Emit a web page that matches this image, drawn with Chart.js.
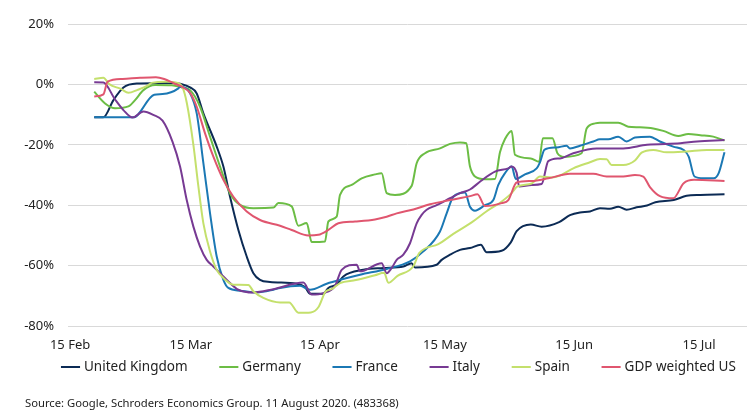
<!DOCTYPE html>
<html><head><meta charset="utf-8">
<script src="https://cdn.jsdelivr.net/npm/chart.js@4/dist/chart.umd.min.js"></script>
<style>
html,body{margin:0;padding:0;background:#fff;}
#wrap{position:relative;width:752px;height:415px;overflow:hidden;}
#source{position:absolute;left:25px;top:395px;font:11.25px 'Noto Sans',sans-serif;color:#222;white-space:nowrap;}
</style></head><body>
<div id="wrap"><canvas id="c" width="752" height="415"></canvas>
<div id="source">Source: Google, Schroders Economics Group. 11 August 2020. (483368)</div></div>
<script>
// x = days after 15 Feb 2020, y = % change
const seriesNames = ['United Kingdom','Germany','France','Italy','Spain','GDP weighted US'];
const seriesColors = ['#0c2b55','#6cbd45','#1b78b4','#773a93','#c4e06c','#e0566f'];
const tickDays = [0,29,60,90,121,151];
const tickLabels = ['15 Feb','15 Mar','15 Apr','15 May','15 Jun','15 Jul'];
const yTicks = [20,0,-20,-40,-60,-80];

const ukData = [[5.8,-10.9],[8,-10.9],[10.4,-5.2],[12.8,-1.0],[16,0.3],[20.8,0.4],[24.8,0.5],[26.4,0.2],[28.8,-1.0],[30.4,-3.0],[32,-9.6],[35.2,-20.6],[36.8,-27.2],[38.4,-37.2],[40.4,-48.2],[42.4,-57],[44,-62.5],[45.6,-64.7],[48,-65.4],[54.4,-66],[56.4,-67.1],[57.6,-69.3],[60.8,-69.3],[62,-67.4],[64,-66.3],[65.6,-63.6],[70.4,-61.4],[75.2,-60.8],[80,-60.3],[82,-59.2],[82.8,-60.6],[88,-59.7],[89.2,-58.1],[91.2,-56.4],[93.6,-54.8],[96,-54.2],[98.6,-53.1],[100,-55.6],[103.6,-55.1],[105.8,-52.3],[107.2,-48.6],[110.6,-46.4],[113.2,-47.1],[117.4,-45.6],[120,-43.3],[122.4,-42.4],[124.8,-42.1],[127.2,-41],[129.6,-41.2],[131.6,-40.5],[133.6,-41.5],[136,-40.7],[138.5,-40.1],[140.5,-39],[144.9,-38.3],[148,-36.9],[151.3,-36.6],[157.1,-36.4]];
const deData = [[5.8,-2.4],[8.4,-6.3],[10.8,-7.9],[14,-7.3],[15.6,-5.2],[17.6,-1.9],[20.4,-0.2],[24.4,-0.3],[26.8,-1.0],[28.8,-1.9],[31.2,-7.4],[33.6,-17.3],[36,-27.2],[38.4,-36.1],[40.8,-39.9],[44,-41],[48.8,-40.8],[50,-39.3],[53.2,-40.4],[54.8,-46.8],[56.8,-45.9],[58,-52.2],[61.2,-52],[62,-45.4],[64,-43.8],[64.8,-36.6],[67.6,-33.3],[70,-31.1],[73.2,-29.8],[74.8,-29.4],[76,-36],[78,-36.6],[82,-33.6],[83.2,-26.1],[85.2,-22.8],[88.8,-21.2],[91.2,-19.7],[93.6,-19.2],[95.1,-19.5],[96,-27.2],[97.2,-30.5],[99.6,-31.4],[102,-31.3],[103.2,-22.5],[104.4,-18.1],[106,-15.4],[106.8,-23.3],[110.6,-24.5],[112.6,-25.6],[113.5,-17.8],[115.8,-17.8],[117,-22.8],[118.6,-24],[122.8,-22.8],[124,-14.6],[126,-12.9],[127.2,-12.7],[131.6,-12.7],[134,-14],[136.8,-14.2],[140,-14.6],[142.4,-15.4],[146,-17.1],[148.4,-16.4],[151.3,-16.8],[154.4,-17.3],[157.1,-18.6]];
const frData = [[5.8,-10.9],[15.2,-10.9],[20.2,-3.4],[22.2,-3.2],[26,-1.3],[26.4,-0.7],[28.8,-2.9],[30.4,-9.6],[32,-26.1],[33.6,-42.7],[35.2,-57],[36.8,-64.7],[38,-67.4],[40.8,-68.3],[44.8,-68.9],[48.8,-68],[50.4,-67.4],[55.2,-66.7],[57.6,-68],[61.6,-66],[64.8,-64.7],[69.6,-63],[76,-61.1],[81.6,-58.6],[84.8,-55.3],[88.8,-48.7],[90.4,-42.7],[92,-37.2],[94.8,-35.8],[96,-40.5],[97.2,-41.8],[99.6,-40],[101.6,-38.3],[102.8,-33.3],[104.4,-29.4],[106,-27.2],[107,-31.3],[109.2,-29.8],[112,-27.8],[112.8,-25.8],[113.9,-21.6],[116.8,-20.9],[119.2,-20.3],[120,-21.2],[122.4,-20.3],[125.6,-18.9],[127.2,-18.2],[129.2,-18.2],[131.6,-17.3],[133.6,-18.9],[135.6,-17.6],[139.2,-17.3],[141.6,-18.9],[144.8,-20.6],[147.3,-21.7],[148.5,-23.9],[149.9,-30.5],[152.1,-31.1],[154.5,-31.1],[155.7,-29.4],[157.1,-22.5]];
const itData = [[5.8,0.7],[8,0.6],[10.8,-5.0],[12.8,-8.5],[15,-11],[17.6,-9],[20,-10.1],[22.2,-12],[24.6,-19],[26.4,-27.2],[28,-38.3],[29.6,-47.1],[31.2,-53.7],[32.8,-58.1],[34.4,-60.3],[36,-62.5],[38.4,-65.8],[40.4,-68],[44,-68.9],[48.8,-67.8],[56,-65.6],[58,-69.6],[60.8,-69.1],[63.6,-66.7],[65.2,-61.4],[68.8,-59.7],[69.6,-61.9],[74.8,-59.2],[76,-62.5],[77.2,-60.8],[78.4,-58.1],[80,-56.4],[81.6,-52.6],[83.2,-46],[84.4,-43.2],[85.6,-41.5],[88,-40],[91.2,-37.7],[93.6,-36],[96,-34.8],[98.6,-32],[102,-28.9],[105.2,-27.8],[106,-27.2],[107.2,-29.3],[107.8,-33.8],[110.8,-33.3],[113.2,-33],[114.8,-25.4],[117.6,-24.5],[120.8,-22.8],[126.4,-21.2],[132.8,-21.2],[138.5,-20],[146.5,-19.5],[150.5,-18.9],[157.1,-18.4]];
const esData = [[5.8,1.8],[8,2.2],[9.4,0.1],[12.2,-1.5],[14,-2.8],[16.2,-1.8],[18.6,-0.4],[19.6,0.5],[23.2,0.9],[25.8,0.5],[27,-1],[28,-6],[29.6,-20],[30.8,-33.8],[32,-46],[33.6,-55.3],[35.2,-61.4],[36.8,-64.1],[39.2,-66.3],[42.8,-66.4],[44,-68.5],[46.4,-70.7],[50.4,-72.2],[52.6,-72.2],[54.8,-75.6],[57.8,-75.5],[59.6,-73.8],[61.4,-68.5],[62.8,-67.8],[64.8,-65.8],[68.6,-64.8],[73.2,-63.2],[75.4,-62.4],[76.4,-65.7],[78.6,-63.4],[82.4,-60.2],[83.8,-55.9],[88.4,-52.9],[92,-49.5],[96.4,-45.7],[100,-42],[103.4,-39],[106,-36],[107.4,-33.8],[110.8,-32.8],[112.8,-30.5],[115.6,-30.8],[117.6,-30.2],[120.8,-27.8],[124.8,-25.8],[127.2,-24.7],[128.8,-24.8],[130,-26.7],[132.8,-26.7],[135.6,-25.2],[137.2,-22.6],[140,-21.7],[143.2,-22.5],[148,-22.2],[152.9,-21.7],[157.1,-21.7]];
const usData = [[5.8,-4.0],[8,-3.3],[9,0.9],[12.6,1.8],[16.8,2.2],[20.6,2.4],[22.6,1.8],[25,0.3],[26.6,-0.6],[28.8,-2.8],[30.4,-7.4],[32.4,-16.2],[34.4,-23.9],[36.8,-31.6],[39.2,-37.2],[42.4,-42.1],[45.6,-44.9],[50.4,-46.8],[53.2,-48.2],[57.2,-50],[59.6,-49.8],[62,-48.2],[64.4,-46],[68.4,-45.4],[73.2,-44.7],[76,-43.8],[78.4,-42.7],[82.4,-41.4],[86.4,-39.7],[91.2,-38.3],[96,-37],[97.8,-36.4],[99.6,-40.3],[103.6,-39.3],[105.2,-38.3],[107.2,-32.5],[110.8,-32],[114.8,-31.1],[120,-29.6],[125.6,-29.6],[128.8,-30.5],[132.8,-30.5],[135.6,-30],[137.6,-30.5],[139.2,-34],[141.6,-37],[144.8,-37.7],[147.3,-32.7],[149.8,-31.6],[157.1,-32]];

const allData = [ukData, deData, frData, itData, esData, usData];

Chart.defaults.font.family = "'Noto Sans', sans-serif";
Chart.defaults.color = '#222';

const legendPlacer = {
  id: 'legendPlacer',
  afterLayout(chart) {
    const lg = chart.legend;
    if (!lg || !lg.lineWidths) return;
    const p = lg.options.labels.padding;
    const start = (lg.left + p + lg.right - lg.lineWidths[0]) / 2;
    const dx = 63.75 - start;
    lg.left += dx; lg.right += dx;
    const dy = (360.25 - p) - lg.top;
    lg.top += dy; lg.bottom += dy;
  }
};

new Chart(document.getElementById('c'), {
  type: 'line',
  data: {
    datasets: seriesNames.map((name, i) => ({
      label: name,
      data: allData[i].map(d => ({x: d[0], y: d[1]})),
      borderColor: seriesColors[i],
      backgroundColor: seriesColors[i],
      borderWidth: 2,
      pointRadius: 0,
      fill: false,
      cubicInterpolationMode: 'monotone',
      order: seriesNames.length - 1 - i
    }))
  },
  options: {
    responsive: false,
    animation: false,
    devicePixelRatio: 1,
    layout: { padding: { left: 0, right: 5, top: 24, bottom: 1 } },
    plugins: {
      tooltip: { enabled: false },
      legend: {
        position: 'bottom',
        labels: {
          usePointStyle: true,
          pointStyle: 'line',
          padding: 34.5,
          color: '#222',
          font: { size: 13.5 },
          sort: (a, b) => a.datasetIndex - b.datasetIndex
        }
      }
    },
    scales: {
      x: {
        type: 'linear',
        min: -0.5,
        max: 162.5,
        grid: { display: false, drawTicks: false },
        border: { display: false },
        afterFit: s => { s.height = 30; },
        afterBuildTicks: s => { s.ticks = tickDays.map(v => ({value: v})); },
        ticks: {
          autoSkip: false,
          maxRotation: 0,
          padding: 11,
          font: { size: 13 },
          color: '#222',
          callback: v => { const k = tickDays.indexOf(v); return k >= 0 ? tickLabels[k] : ''; }
        }
      },
      y: {
        min: -80,
        max: 20,
        grid: { color: '#d9d9d9', lineWidth: 1, drawTicks: false },
        border: { display: false },
        afterFit: s => { s.width = 68; },
        afterBuildTicks: s => { s.ticks = yTicks.map(v => ({value: v})); },
        ticks: {
          padding: 14,
          font: { size: 13 },
          color: '#222',
          callback: v => v + '%'
        }
      }
    }
  },
  plugins: [legendPlacer]
});
</script>
</body></html>
